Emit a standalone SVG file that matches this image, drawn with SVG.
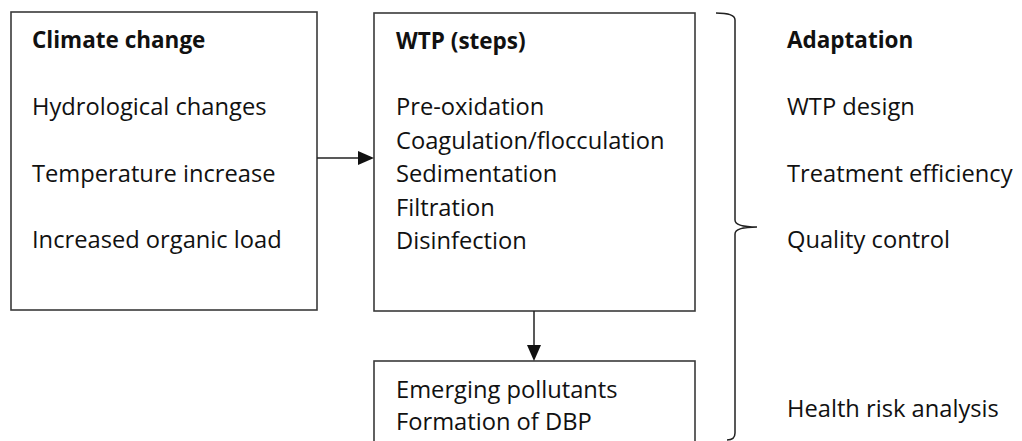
<svg xmlns="http://www.w3.org/2000/svg" width="1022" height="441" viewBox="0 0 1022 441">
<defs>
<style>
.box{fill:#fff;stroke:#3a3a3a;stroke-width:1.6}
.t{font-family:"Open Sans","Noto Sans","Liberation Sans",sans-serif;font-size:23.7px;fill:#111}
.b{font-weight:bold;font-size:22.5px}
.ln{stroke:#222;stroke-width:1.5;fill:none}
.ah{fill:#111}
</style>
</defs>
<rect width="1022" height="441" fill="#fff"/>
<g id="climate">
<rect class="box" x="11" y="12" width="306" height="298"/>
<text class="t b" x="32" y="48">Climate change</text>
<text class="t" x="32" y="115">Hydrological changes</text>
<text class="t" x="32" y="182">Temperature increase</text>
<text class="t" x="32" y="248">Increased organic load</text>
</g>
<g id="wtp">
<rect class="box" x="374" y="13" width="321" height="298"/>
<text class="t b" x="396" y="49">WTP (steps)</text>
<text class="t" x="396" y="115">Pre-oxidation</text>
<text class="t" x="396" y="149">Coagulation/flocculation</text>
<text class="t" x="396" y="182">Sedimentation</text>
<text class="t" x="396" y="216">Filtration</text>
<text class="t" x="396" y="249">Disinfection</text>
</g>
<g id="pollutants">
<rect class="box" x="374" y="361" width="321" height="90"/>
<text class="t" x="396" y="398">Emerging pollutants</text>
<text class="t" x="396" y="430">Formation of DBP</text>
</g>
<g id="adaptation">
<text class="t b" x="787" y="48">Adaptation</text>
<text class="t" x="787" y="115">WTP design</text>
<text class="t" x="787" y="182">Treatment efficiency</text>
<text class="t" x="787" y="248">Quality control</text>
<text class="t" x="787" y="417">Health risk analysis</text>
</g>
<g id="connectors">
<line class="ln" x1="317" y1="158" x2="360" y2="158"/>
<polygon class="ah" points="358,151 374,158 358,165"/>
<line class="ln" x1="534" y1="311" x2="534" y2="347"/>
<polygon class="ah" points="527,345 534,361 541,345"/>
<path class="ln" d="M716,13 Q735,13 735,20 L735,220 Q735,227 757,227 Q735,227 735,234 L735,433 Q735,440 727,440"/>
</g>
</svg>
